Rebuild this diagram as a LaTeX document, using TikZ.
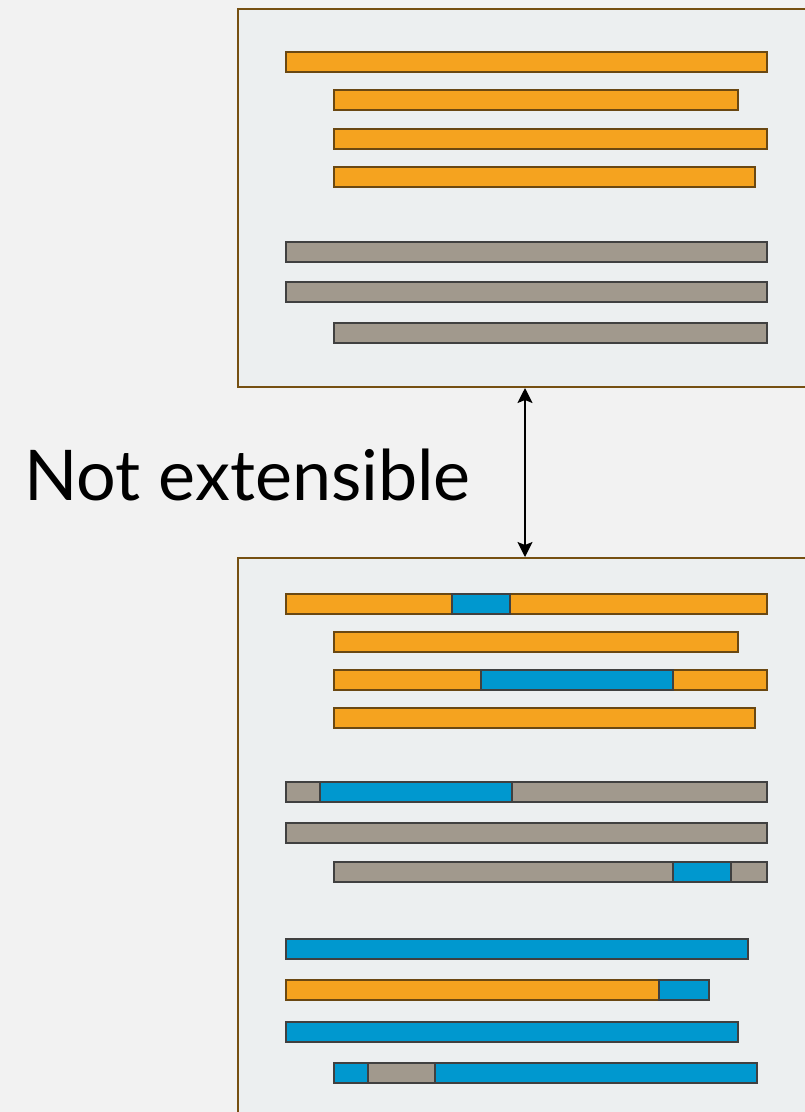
\documentclass[tikz,border=0pt]{standalone}
\usepackage{fontspec}
\setmainfont{Lato}
\usetikzlibrary{arrows.meta}
\definecolor{bg}{HTML}{F2F2F2}
\definecolor{panelfill}{HTML}{ECEFF0}
\definecolor{panelline}{HTML}{765012}
\definecolor{org}{HTML}{F5A31F}
\definecolor{orgline}{HTML}{6A4812}
\definecolor{blu}{HTML}{0098CF}
\definecolor{gry}{HTML}{A1998D}
\definecolor{segline}{HTML}{404040}
\tikzset{
  panel/.style={draw=panelline, fill=panelfill, line width=2pt, inner sep=0pt, anchor=north west},
  barbase/.style={line width=2.2pt, inner sep=0pt, minimum height=19.5pt, anchor=north west},
  ob/.style={barbase, draw=orgline, fill=org},
  bb/.style={barbase, draw=segline, fill=blu},
  gb/.style={barbase, draw=segline, fill=gry},
  dimarrow/.style={line width=1.6pt, {Stealth[length=15pt,width=15pt,inset=3pt]}-{Stealth[length=15pt,width=15pt,inset=3pt]}},
}
\newcommand\seg[5]{\pgfmathsetmacro\segw{#4-#3}\node[#2, minimum width=\segw pt] (#1) at (#3-0.5,#5) {};}
\begin{document}
\begin{tikzpicture}[x=1pt,y=-1pt]
\useasboundingbox (0,0) rectangle (805,1112);
\clip (0,0) rectangle (805,1112);
\fill[bg] (0,0) rectangle (805,1112);
% panels
\node[panel, minimum width=590pt, minimum height=378pt] (top) at (237,8) {};
\node[panel, minimum width=590pt, minimum height=580pt] (bot) at (237,557) {};
% top panel bars
\seg{t1}{ob}{285}{766}{51}
\seg{t2}{ob}{333}{737}{89}
\seg{t3}{ob}{333}{766}{128}
\seg{t4}{ob}{333}{754}{166}
\seg{t5}{gb}{285}{766}{241}
\seg{t6}{gb}{285}{766}{281}
\seg{t7}{gb}{333}{766}{322}
% bottom panel bars
\seg{b1a}{ob}{285}{451}{593}
\seg{b1c}{ob}{509}{766}{593}
\seg{b1b}{bb}{451}{509}{593}
\seg{b2}{ob}{333}{737}{631}
\seg{b3a}{ob}{333}{480}{669}
\seg{b3c}{ob}{672}{766}{669}
\seg{b3b}{bb}{480}{672}{669}
\seg{b4}{ob}{333}{754}{707}
\seg{b5a}{gb}{285}{319}{781}
\seg{b5c}{gb}{511}{766}{781}
\seg{b5b}{bb}{319}{511}{781}
\seg{b6}{gb}{285}{766}{822}
\seg{b7a}{gb}{333}{672}{861}
\seg{b7c}{gb}{730}{766}{861}
\seg{b7b}{bb}{672}{730}{861}
\seg{b8}{bb}{285}{747}{938}
\seg{b9a}{ob}{285}{658}{979}
\seg{b9b}{bb}{658}{708}{979}
\seg{b10}{bb}{285}{737}{1021}
\seg{b11a}{bb}{333}{367}{1062}
\seg{b11c}{bb}{434}{756}{1062}
\seg{b11b}{gb}{367}{434}{1062}
% arrow
\coordinate (ax) at (525,470);
\draw[dimarrow] (ax |- top.south) -- (ax |- bot.north);
% label
\node[font=\fontsize{70}{80}\selectfont, anchor=base west, inner sep=0pt] (lbl) at (24,500) {Not extensible};
\end{tikzpicture}
\end{document}
